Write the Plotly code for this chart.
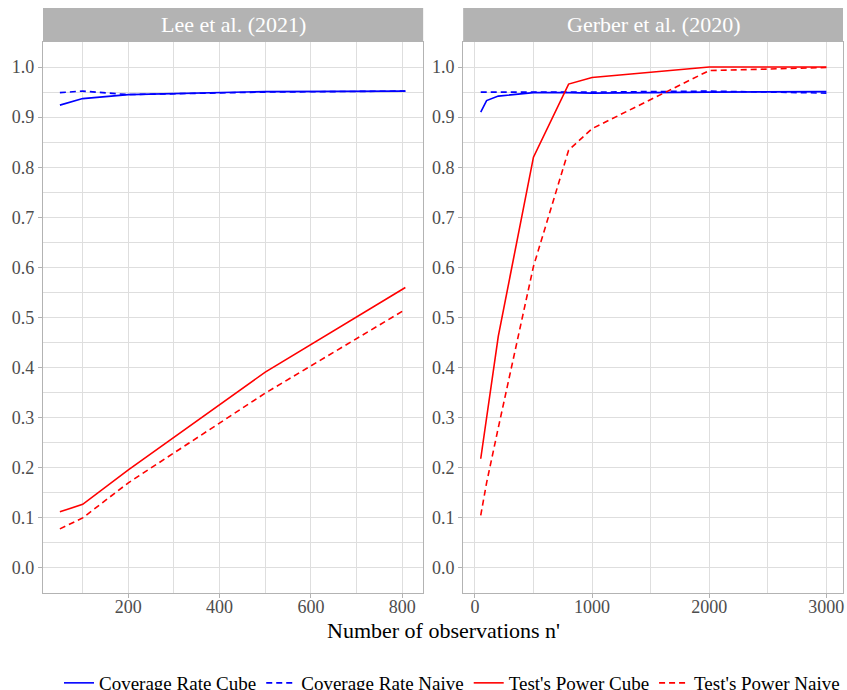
import plotly.graph_objects as go

# ---------------- data ----------------
lee_n = [50, 100, 200, 500, 807]
lee_cov_cube = [0.924, 0.937, 0.945, 0.951, 0.952]
lee_cov_naive = [0.949, 0.952, 0.945, 0.950, 0.952]
lee_pow_cube = [0.112, 0.127, 0.196, 0.391, 0.560]
lee_pow_naive = [0.078, 0.100, 0.170, 0.349, 0.516]

ger_n = [50, 100, 200, 500, 800, 1000, 2000, 3000]
ger_cov_cube = [0.910, 0.933, 0.942, 0.949, 0.949, 0.948, 0.950, 0.951]
ger_cov_naive = [0.950, 0.950, 0.950, 0.950, 0.950, 0.950, 0.952, 0.948]
ger_pow_cube = [0.218, 0.300, 0.463, 0.820, 0.966, 0.979, 1.000, 1.000]
ger_pow_naive = [0.105, 0.170, 0.280, 0.602, 0.834, 0.877, 0.993, 0.999]

panel_titles = ["Lee et al. (2021)", "Gerber et al. (2020)"]
series_names = ["Coverage Rate Cube", "Coverage Rate Naive", "Test's Power Cube", "Test's Power Naive"]
x_title = "Number of observations n'"

# ---------------- style ----------------
FONT = "'Liberation Serif', 'Times New Roman', Tinos, serif"
BLUE = "#0000FF"
RED = "#FF0000"
GRID = "#DEDEDE"
BORDER = "#B3B3B3"
DASH = "6px,4px"

styles = [(BLUE, "solid"), (BLUE, DASH), (RED, "solid"), (RED, DASH)]

fig = go.Figure()
panels = [
    (lee_n, [lee_cov_cube, lee_cov_naive, lee_pow_cube, lee_pow_naive], "x", "y"),
    (ger_n, [ger_cov_cube, ger_cov_naive, ger_pow_cube, ger_pow_naive], "x2", "y2"),
]
for pi, (xs, ys_list, xa, ya) in enumerate(panels):
    for si, ys in enumerate(ys_list):
        col, dash = styles[si]
        fig.add_trace(go.Scatter(
            x=xs, y=ys, mode="lines", xaxis=xa, yaxis=ya,
            name=series_names[si], legendgroup=series_names[si],
            showlegend=(pi == 0),
            line=dict(color=col, dash=dash, width=1.6),
        ))

common_axis = dict(
    showline=True, mirror=True, linecolor=BORDER, linewidth=1.3,
    showgrid=True, gridcolor=GRID, gridwidth=1.1,
    ticks="outside", ticklen=4, tickcolor=BORDER, tickwidth=1.1,
    tickfont=dict(family=FONT, size=18, color="#4D4D4D"),
    zeroline=False,
)

yaxis_common = dict(common_axis, range=[-0.05, 1.05], tickmode="linear", tick0=0, dtick=0.1,
                    tickformat=".1f", ticklabelstandoff=0,
                    minor=dict(tickmode="linear", tick0=0.05, dtick=0.1, showgrid=True,
                               gridcolor=GRID, gridwidth=0.6, ticks=""))

W, H = 847, 690
ML, MR, MT, MB = 43, 4, 42, 97
plot_h = H - MT - MB
plot_w = W - ML - MR
bottom_px = H - MB

x1 = 0.4752
x2 = 0.5252
fig.update_layout(
    width=W, height=H,
    margin=dict(l=ML, r=MR, t=MT, b=MB, autoexpand=False),
    paper_bgcolor="white", plot_bgcolor="white",
    font=dict(family=FONT, color="black"),
    xaxis=dict(common_axis, domain=[0, x1], range=[13, 846], tickmode="linear", tick0=0, dtick=200,
               anchor="y", ticklabelstandoff=-7,
               minor=dict(tickmode="linear", tick0=100, dtick=200, showgrid=True,
                          gridcolor=GRID, gridwidth=0.6, ticks="")),
    xaxis2=dict(common_axis, domain=[x2, 1], range=[-100, 3142], tickmode="linear", tick0=0, dtick=1000,
                anchor="y2", ticklabelstandoff=-7,
                minor=dict(tickmode="linear", tick0=500, dtick=1000, showgrid=True,
                           gridcolor=GRID, gridwidth=0.6, ticks="")),
    yaxis=dict(yaxis_common, domain=[0, 1], anchor="x"),
    yaxis2=dict(yaxis_common, domain=[0, 1], anchor="x2"),
    showlegend=True,
    legend=dict(orientation="h", x=0.5 + 9 / plot_w, xanchor="center",
                y=-(683 - bottom_px) / plot_h, yanchor="middle",
                font=dict(family=FONT, size=19, color="black"), bgcolor="rgba(0,0,0,0)",
                itemwidth=30, tracegroupgap=0),
)

# facet strips
strip_top = 1 + 34 / plot_h
for (d0, d1), title in zip([(0, x1), (x2, 1)], panel_titles):
    fig.add_shape(type="rect", xref="paper", yref="paper", x0=d0, x1=d1, y0=1.0015, y1=strip_top,
                  fillcolor=BORDER, line=dict(width=0), layer="above")
    fig.add_annotation(xref="paper", yref="paper", x=(d0 + d1) / 2, y=1 + 17 / plot_h,
                       text=title, showarrow=False, xanchor="center", yanchor="middle",
                       font=dict(family=FONT, size=22, color="white"))

fig.add_annotation(xref="paper", yref="paper", x=0.5, y=-(630 - bottom_px) / plot_h,
                   text=x_title, showarrow=False, xanchor="center", yanchor="middle",
                   font=dict(family=FONT, size=22, color="black"))

fig.write_html(
    "out.html",
    config={"displayModeBar": False},
    post_script=("document.documentElement.style.margin='0';document.body.style.margin='0';"
                 "document.documentElement.style.overflow='hidden';document.body.style.overflow='hidden';"),
)
